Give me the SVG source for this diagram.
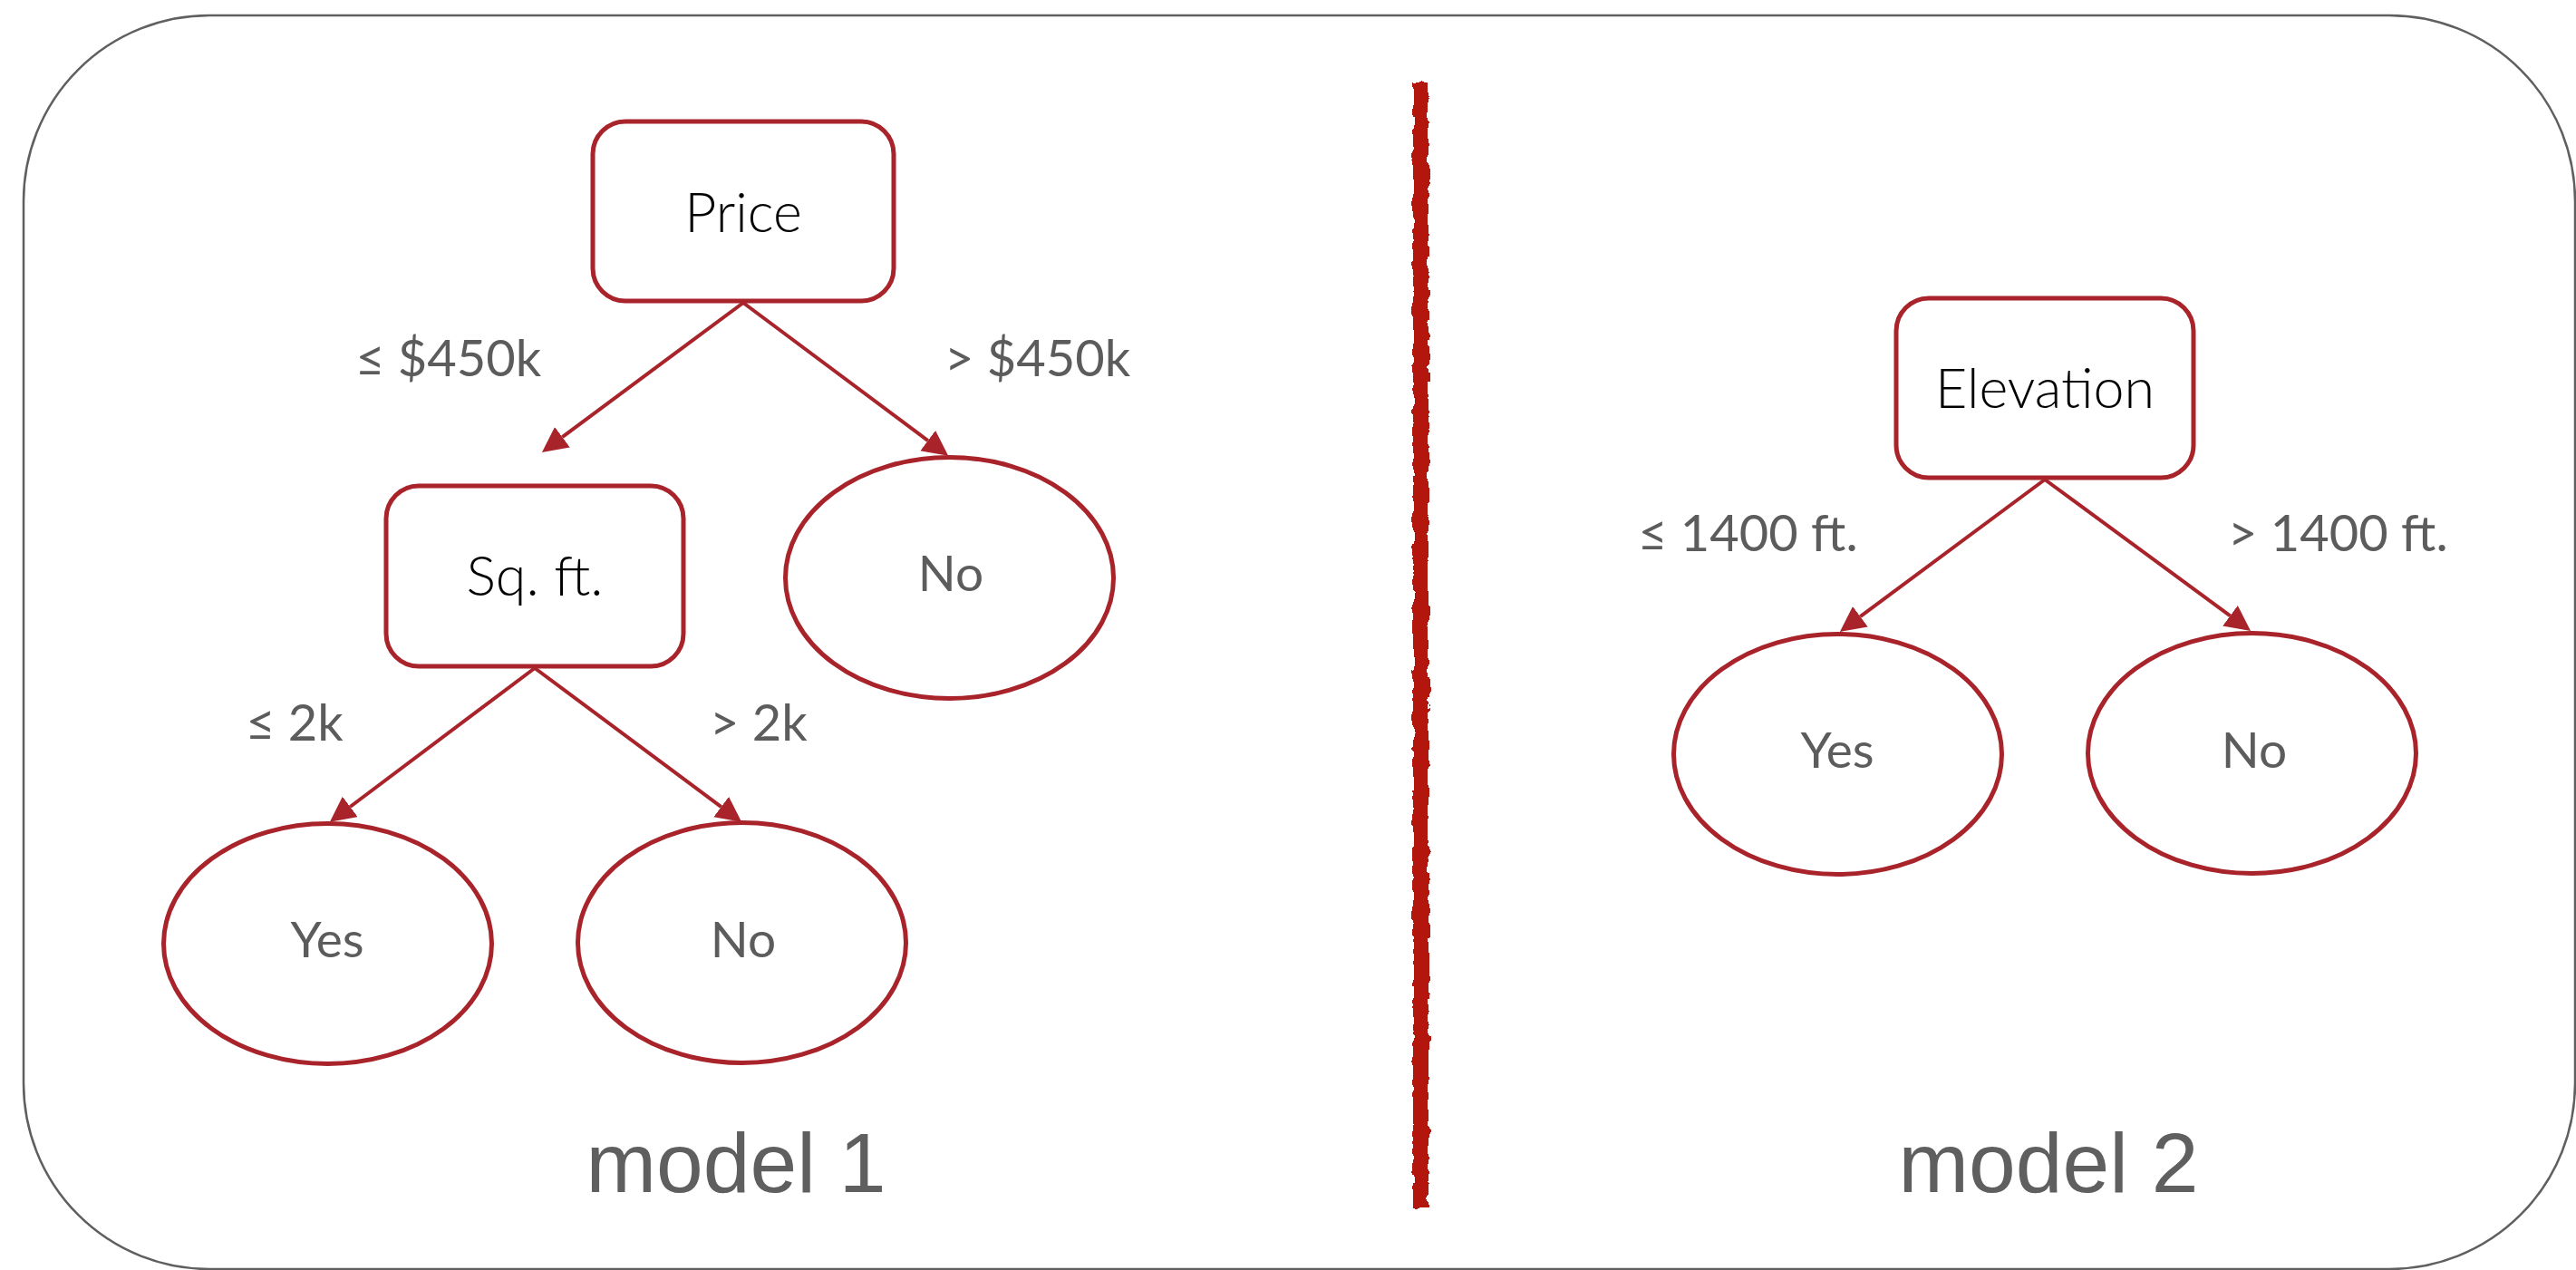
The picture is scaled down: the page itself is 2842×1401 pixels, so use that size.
<svg xmlns="http://www.w3.org/2000/svg" width="2842" height="1401" viewBox="0 0 2842 1401">
  <style>
    .frame { fill: none; stroke: #5f5f5f; stroke-width: 2.5; }
    .box { fill: #ffffff; stroke: #a8232a; stroke-width: 5; }
    .leaf { fill: #ffffff; stroke: #a8232a; stroke-width: 5; }
    .edge { fill: none; stroke: #a8232a; stroke-width: 4; marker-end: url(#arrow); }
    .split { font-family: Lato, "Open Sans", "Liberation Sans", sans-serif; font-weight: 300; font-size: 61px; fill: #000000; text-anchor: middle; }
    .answer { font-family: Lato, "Liberation Sans", sans-serif; font-size: 55px; fill: #5c5c5c; text-anchor: middle; }
    .cond { font-family: Lato, "Liberation Sans", sans-serif; font-size: 56px; fill: #5c5c5c; }
    .caption { font-family: "Liberation Sans", Arial, sans-serif; font-size: 93px; fill: #5f5f5f; text-anchor: middle; }
    .divider { fill: #b3190c; }
  </style>
  <defs>
    <marker id="arrow" markerUnits="userSpaceOnUse" markerWidth="30" markerHeight="30" refX="0" refY="14" orient="auto">
      <path d="M0,0 L28,14 L0,28 z" fill="#a8232a"/>
    </marker>
    <!-- rough, hand-painted edge for the separating stroke -->
    <filter id="rough" x="-50%" y="-5%" width="200%" height="110%">
      <feTurbulence type="fractalNoise" baseFrequency="0.12 0.06" numOctaves="3" seed="4" result="noise"/>
      <feDisplacementMap in="SourceGraphic" in2="noise" scale="9" xChannelSelector="R" yChannelSelector="G"/>
    </filter>
  </defs>

  <!-- outer frame -->
  <rect class="frame" x="26" y="17" width="2815" height="1383" rx="205" ry="205"/>

  <!-- divider between the two models -->
  <rect class="divider" x="1559" y="89" width="17" height="1243" filter="url(#rough)"/>

  <!-- connectors -->
  <g id="connectors">
    <line class="edge" x1="820" y1="334" x2="620.4" y2="482.2"/>
    <line class="edge" x1="820" y1="334" x2="1023.7" y2="486.1"/>
    <line class="edge" x1="590" y1="737" x2="386.3" y2="890.0"/>
    <line class="edge" x1="590" y1="737" x2="795.7" y2="890.1"/>
    <line class="edge" x1="2256" y1="529" x2="2052.4" y2="680.2"/>
    <line class="edge" x1="2256" y1="529" x2="2460.5" y2="679.3"/>
  </g>

  <!-- edge conditions -->
  <g id="conditions">
    <text class="cond" x="392" y="415">≤ $450k</text>
    <text class="cond" x="1042" y="415">&gt; $450k</text>
    <text class="cond" x="271" y="817">≤ 2k</text>
    <text class="cond" x="783" y="817">&gt; 2k</text>
    <text class="cond" x="1807" y="608">≤ 1400 ft.</text>
    <text class="cond" x="2458" y="608">&gt; 1400 ft.</text>
  </g>

  <!-- model 1 -->
  <g id="node-price">
    <rect class="box" x="654" y="134" width="332" height="198" rx="36"/>
    <text class="split" x="820" y="256">Price</text>
  </g>
  <g id="node-sqft">
    <rect class="box" x="426" y="536" width="328" height="199" rx="36"/>
    <text class="split" x="590" y="657">Sq. ft.</text>
  </g>
  <g id="node-no-price">
    <ellipse class="leaf" cx="1047.5" cy="637.5" rx="181" ry="133"/>
    <text class="answer" x="1049" y="652">No</text>
  </g>
  <g id="node-yes-sqft">
    <ellipse class="leaf" cx="361.5" cy="1041" rx="181" ry="132.5"/>
    <text class="answer" x="361" y="1056">Yes</text>
  </g>
  <g id="node-no-sqft">
    <ellipse class="leaf" cx="818.5" cy="1040" rx="181" ry="132.5"/>
    <text class="answer" x="820" y="1056">No</text>
  </g>

  <!-- model 2 -->
  <g id="node-elevation">
    <rect class="box" x="2092" y="329" width="328" height="198" rx="36"/>
    <text class="split" x="2256" y="450">Elevation</text>
  </g>
  <g id="node-yes-elev">
    <ellipse class="leaf" cx="2027.5" cy="832" rx="181" ry="132.5"/>
    <text class="answer" x="2027" y="847">Yes</text>
  </g>
  <g id="node-no-elev">
    <ellipse class="leaf" cx="2484.5" cy="831" rx="181" ry="132.5"/>
    <text class="answer" x="2487" y="847">No</text>
  </g>

  <!-- captions -->
  <text class="caption" x="812" y="1315">model 1</text>
  <text class="caption" x="2260" y="1315">model 2</text>
</svg>
